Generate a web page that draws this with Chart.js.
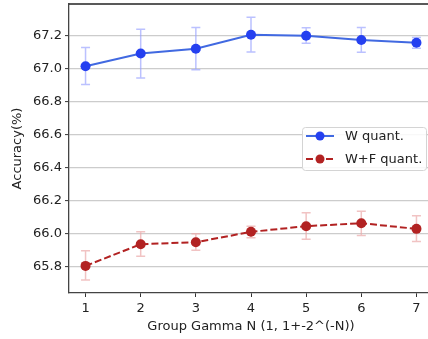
<!DOCTYPE html>
<html>
<head>
<meta charset="utf-8">
<script src="https://cdn.jsdelivr.net/npm/chart.js@4/dist/chart.umd.min.js"></script>
<style>
html,body{margin:0;padding:0;overflow:hidden;background:#fff;width:428px;height:339px;}
canvas{display:block;}
</style>
</head>
<body>
<canvas id="c" width="440" height="339"></canvas>
<script>
const groupN = [1, 2, 3, 4, 5, 6, 7];
const wQuant = [67.014, 67.091, 67.119, 67.204, 67.198, 67.172, 67.156];
const wQuantLow = [66.903, 66.943, 66.992, 67.100, 67.152, 67.098, 67.123];
const wQuantHigh = [67.127, 67.238, 67.248, 67.310, 67.246, 67.248, 67.188];
const wfQuant = [65.806, 65.937, 65.949, 66.012, 66.046, 66.064, 66.030];
const wfQuantLow = [65.721, 65.864, 65.900, 65.976, 65.967, 65.990, 65.953];
const wfQuantHigh = [65.897, 66.012, 66.000, 66.046, 66.127, 66.137, 66.109];
const yTicks = [65.8, 66.0, 66.2, 66.4, 66.6, 66.8, 67.0, 67.2];
const xTicks = [1, 2, 3, 4, 5, 6, 7];
const seriesNames = ['W quant.', 'W+F quant.'];

const FONT = 'DejaVu Sans';

const errorBars = {
  id: 'errorBars',
  beforeDatasetsDraw(chart) {
    const ctx = chart.ctx;
    const xs = chart.scales.x, ys = chart.scales.y;
    chart.data.datasets.forEach(ds => {
      ctx.save();
      ctx.strokeStyle = ds.errColor;
      ctx.lineWidth = 1.5;
      ds.data.forEach((p, i) => {
        const x = xs.getPixelForValue(p.x);
        const y1 = ys.getPixelForValue(ds.low[i]);
        const y2 = ys.getPixelForValue(ds.high[i]);
        ctx.beginPath();
        ctx.moveTo(x, y1); ctx.lineTo(x, y2);
        ctx.moveTo(x - 4.5, y1); ctx.lineTo(x + 4.5, y1);
        ctx.moveTo(x - 4.5, y2); ctx.lineTo(x + 4.5, y2);
        ctx.stroke();
      });
      ctx.restore();
    });
  },
  afterDraw(chart) {
    const ctx = chart.ctx;
    const a = chart.chartArea;
    ctx.save();
    ctx.strokeStyle = '#222';
    ctx.lineWidth = 1.3;
    ctx.beginPath();
    ctx.moveTo(a.left, a.top); ctx.lineTo(a.right, a.top);
    ctx.stroke();
    // legend
    const bx = 302.5, by = 127.5, bw = 124, bh = 43, r = 3;
    ctx.fillStyle = 'rgba(255,255,255,0.85)';
    ctx.strokeStyle = '#d4d4d4';
    ctx.lineWidth = 1;
    ctx.beginPath();
    ctx.moveTo(bx + r, by);
    ctx.lineTo(bx + bw - r, by); ctx.quadraticCurveTo(bx + bw, by, bx + bw, by + r);
    ctx.lineTo(bx + bw, by + bh - r); ctx.quadraticCurveTo(bx + bw, by + bh, bx + bw - r, by + bh);
    ctx.lineTo(bx + r, by + bh); ctx.quadraticCurveTo(bx, by + bh, bx, by + bh - r);
    ctx.lineTo(bx, by + r); ctx.quadraticCurveTo(bx, by, bx + r, by);
    ctx.closePath();
    ctx.fill(); ctx.stroke();
    const rows = [136, 159];
    chart.data.datasets.forEach((ds, i) => {
      const y = rows[i];
      ctx.strokeStyle = ds.borderColor;
      ctx.lineWidth = 2;
      ctx.setLineDash(ds.borderDash || []);
      ctx.beginPath();
      ctx.moveTo(306, y); ctx.lineTo(334, y);
      ctx.stroke();
      ctx.setLineDash([]);
      ctx.fillStyle = ds.pointBackgroundColor;
      ctx.beginPath();
      ctx.arc(320, y, 4.5, 0, Math.PI * 2);
      ctx.fill();
      ctx.fillStyle = '#222';
      ctx.font = '13px "' + FONT + '"';
      ctx.textBaseline = 'middle';
      ctx.textAlign = 'left';
      ctx.fillText(ds.label, 345, y + 1);
    });
    ctx.restore();
  }
};

new Chart(document.getElementById('c'), {
  type: 'line',
  data: {
    datasets: [
      {
        label: seriesNames[0],
        data: groupN.map((n, i) => ({ x: n, y: wQuant[i] })),
        low: wQuantLow, high: wQuantHigh,
        errColor: 'rgba(150,160,255,0.65)',
        borderColor: '#4169e1',
        borderWidth: 2,
        pointBackgroundColor: '#2540f0',
        pointBorderColor: '#2540f0',
        pointRadius: 5,
        pointBorderWidth: 0,
        tension: 0
      },
      {
        label: seriesNames[1],
        data: groupN.map((n, i) => ({ x: n, y: wfQuant[i] })),
        low: wfQuantLow, high: wfQuantHigh,
        errColor: 'rgba(235,170,170,0.7)',
        borderColor: '#b22222',
        borderWidth: 2,
        borderDash: [7, 3],
        pointBackgroundColor: '#b22222',
        pointBorderColor: '#b22222',
        pointRadius: 5,
        pointBorderWidth: 0,
        tension: 0
      }
    ]
  },
  options: {
    responsive: false,
    animation: false,
    layout: { autoPadding: false, padding: { top: 4, right: 7, left: 0, bottom: 0 } },
    plugins: { legend: { display: false }, tooltip: { enabled: false } },
    scales: {
      x: {
        type: 'linear',
        min: 0.7, max: 7.3,
        afterBuildTicks(s) { s.ticks = xTicks.map(v => ({ value: v })); },
        afterFit(s) { s.height = 46; s.paddingLeft = 0; s.paddingRight = 0; },
        grid: { drawOnChartArea: false, tickLength: 4, tickColor: '#333', tickWidth: 1 },
        border: { color: '#444', width: 1.3 },
        ticks: { color: '#222', font: { family: FONT, size: 13 }, padding: 4, maxRotation: 0 },
        title: { display: true, text: 'Group Gamma N (1, 1+-2^(-N))', color: '#222', font: { family: FONT, size: 13 }, padding: { top: 0, bottom: 5 } }
      },
      y: {
        min: 65.642, max: 67.39,
        afterBuildTicks(s) { s.ticks = yTicks.map(v => ({ value: v })); },
        afterFit(s) { s.width = 69; s.paddingTop = 0; s.paddingBottom = 0; },
        grid: { color: '#cccccc', lineWidth: 1.2, tickLength: 4, tickColor: '#333', tickWidth: 1 },
        border: { color: '#444', width: 1.3 },
        ticks: { color: '#222', font: { family: FONT, size: 13 }, padding: 3, callback: v => v.toFixed(1) },
        title: { display: true, text: 'Accuracy(%)', color: '#222', font: { family: FONT, size: 13 }, padding: { top: 10, bottom: 0 } }
      }
    }
  },
  plugins: [errorBars]
});
</script>
</body>
</html>
